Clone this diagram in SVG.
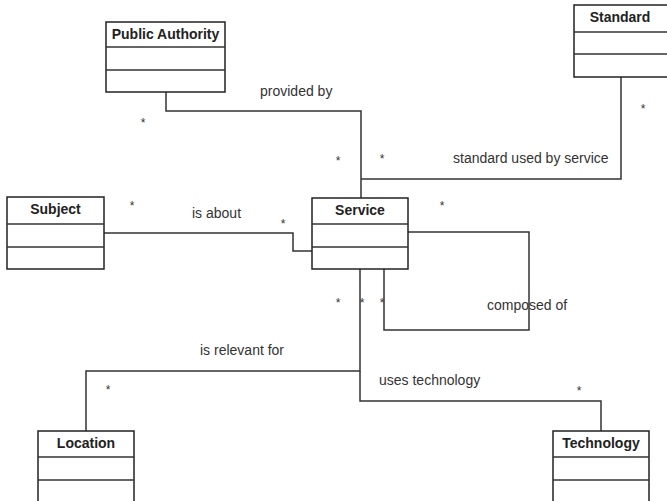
<svg xmlns="http://www.w3.org/2000/svg" width="667" height="501" viewBox="0 0 667 501">
  <style>
    .box { fill: #ffffff; stroke: #222222; stroke-width: 1.5; }
    .div { stroke: #333333; stroke-width: 1.5; }
    .title { font-family: "Liberation Sans", Arial, sans-serif; font-size: 14px; font-weight: bold; fill: #222222; text-anchor: middle; }
    .lbl { font-family: "Liberation Sans", Arial, sans-serif; font-size: 14px; fill: #333333; }
    .mult { font-family: "Liberation Sans", Arial, sans-serif; font-size: 12px; fill: #333333; text-anchor: middle; }
    .conn { fill: none; stroke: #333333; stroke-width: 1.5; }
  </style>
  <rect width="667" height="501" fill="#ffffff"/>

  <!-- association lines -->
  <g id="connectors">
    <!-- provided by -->
    <polyline class="conn" points="166,92 166,111 361,111 361,198"/>
    <!-- standard used by service -->
    <polyline class="conn" points="621,77 621,179 361,179"/>
    <!-- is about -->
    <polyline class="conn" points="104,233 293,233 293,251 312,251"/>
    <!-- composed of (self association) -->
    <polyline class="conn" points="408,232 529,232 529,330 384,330 384,269"/>
    <!-- is relevant for -->
    <polyline class="conn" points="360,269 360,371 86,371 86,431"/>
    <!-- uses technology -->
    <polyline class="conn" points="360,371 360,401 601,401 601,431"/>

    <text class="lbl" x="260" y="96">provided by</text>
    <text class="lbl" x="453" y="163">standard used by service</text>
    <text class="lbl" x="192" y="218">is about</text>
    <text class="lbl" x="487" y="310">composed of</text>
    <text class="lbl" x="200" y="355">is relevant for</text>
    <text class="lbl" x="379" y="385">uses technology</text>

    <text class="mult" x="143" y="127">*</text>
    <text class="mult" x="338" y="165">*</text>
    <text class="mult" x="382" y="163">*</text>
    <text class="mult" x="643" y="113">*</text>
    <text class="mult" x="132" y="210">*</text>
    <text class="mult" x="283" y="228">*</text>
    <text class="mult" x="442" y="210">*</text>
    <text class="mult" x="338" y="307">*</text>
    <text class="mult" x="362" y="307">*</text>
    <text class="mult" x="382" y="307">*</text>
    <text class="mult" x="108" y="394">*</text>
    <text class="mult" x="579" y="395">*</text>
  </g>

  <g id="public-authority">
    <rect class="box" x="106" y="22" width="119" height="70"/>
    <line class="div" x1="106" y1="47" x2="225" y2="47"/>
    <line class="div" x1="106" y1="70" x2="225" y2="70"/>
    <text class="title" x="165.5" y="39">Public Authority</text>
  </g>

  <g id="standard">
    <rect class="box" x="574" y="5" width="96" height="72"/>
    <line class="div" x1="574" y1="32" x2="670" y2="32"/>
    <line class="div" x1="574" y1="54" x2="670" y2="54"/>
    <text class="title" x="620" y="22">Standard</text>
  </g>

  <g id="subject">
    <rect class="box" x="7" y="197" width="97" height="72"/>
    <line class="div" x1="7" y1="224" x2="104" y2="224"/>
    <line class="div" x1="7" y1="247" x2="104" y2="247"/>
    <text class="title" x="55.5" y="214">Subject</text>
  </g>

  <g id="service">
    <rect class="box" x="312" y="198" width="96" height="71"/>
    <line class="div" x1="312" y1="224" x2="408" y2="224"/>
    <line class="div" x1="312" y1="247" x2="408" y2="247"/>
    <text class="title" x="360" y="215">Service</text>
  </g>

  <g id="location">
    <rect class="box" x="38" y="431" width="96" height="74"/>
    <line class="div" x1="38" y1="457" x2="134" y2="457"/>
    <line class="div" x1="38" y1="480" x2="134" y2="480"/>
    <text class="title" x="86" y="448">Location</text>
  </g>

  <g id="technology">
    <rect class="box" x="553" y="431" width="96" height="74"/>
    <line class="div" x1="553" y1="457" x2="649" y2="457"/>
    <line class="div" x1="553" y1="480" x2="649" y2="480"/>
    <text class="title" x="601" y="448">Technology</text>
  </g>
</svg>
